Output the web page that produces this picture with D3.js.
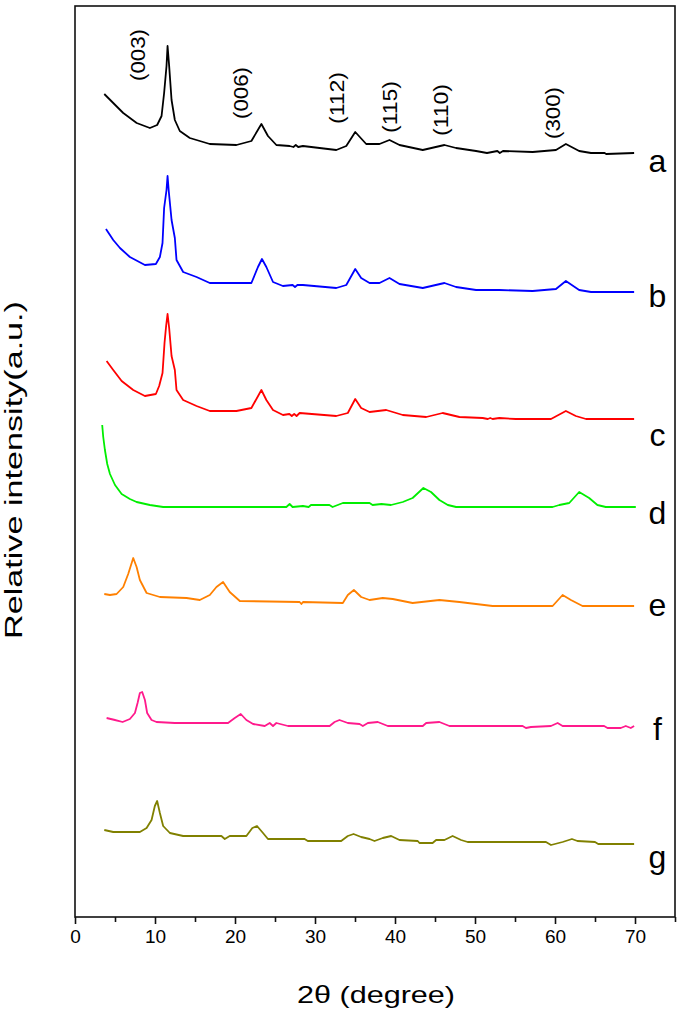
<!DOCTYPE html>
<html>
  <head>
    <meta charset="utf-8">
    <title>XRD patterns a-g</title>
    <script src="https://d3js.org/d3.v7.min.js"></script>
    <style>
      body { margin: 0; background: #fff; }
      text { font-family: "Liberation Sans", Arial, sans-serif; fill: #000; }
    </style>
  </head>
  <body>
    <svg id="chart" width="682" height="1027"></svg>
    <script>
      // ---- data (2theta, relative intensity above each trace's own baseline) ----
      const seriesNames = ["a", "b", "c", "d", "e", "f", "g"];
      const seriesColors = ["#000000", "#0000ff", "#ff0000", "#00ee00", "#ff8000", "#ff1a8c", "#808000"];
      const seriesOffsets = [764, 625, 498, 410, 311, 191, 73];
      const labelLevels = [756, 621, 482, 404, 312, 188, 60];

      const seriesA = [[3.66,59],[4.78,50],[6.03,40],[7.71,30],[9.36,25],[10.27,28],[10.82,37],[11.14,60],[11.44,87],[11.57,107],[11.77,87],[12.07,53],[12.48,33],[13.1,22],[14.35,15],[16.85,9],[20.18,8],[22.05,12],[23.3,29],[24.12,17],[25.17,8],[26.83,7],[27.3,6],[27.6,8],[27.9,6],[28.49,7],[32.66,3],[33.91,7],[35.03,21],[36.4,9],[38.06,9],[39.31,13],[40.56,8],[43.47,3],[46.18,8],[47.63,5],[50.13,2],[51.5,0],[52.8,2],[53.1,0],[53.5,2],[57.2,1],[60.12,3],[61.36,9],[63.02,2],[64.5,0],[66.2,0],[66.4,-1],[69.89,0]];
      const seriesB = [[3.87,63],[4.78,52],[5.62,44],[6.86,35],[8.74,27],[10.11,28],[10.61,35],[10.94,49],[11.14,84],[11.44,102],[11.57,116],[11.73,100],[12.07,72],[12.48,54],[12.69,32],[13.52,20],[15.19,15],[16.85,9],[22.05,9],[22.87,25],[23.37,33],[23.92,25],[24.75,10],[25.99,6],[27.2,7],[27.5,5],[27.8,7],[28.49,7],[32.66,4],[33.91,7],[35.03,23],[35.77,14],[36.82,9],[38.06,9],[39.31,14],[40.56,8],[43.47,4],[46.18,9],[47.63,5],[50.13,2],[53.04,2],[57.2,1],[60.12,3],[61.36,11],[63.02,2],[64.5,0],[69.89,0]];
      const seriesC = [[3.95,58],[4.78,49],[5.83,38],[7.28,29],[8.74,23],[10.11,25],[10.52,33],[10.94,46],[11.19,76],[11.39,93],[11.57,105],[11.77,91],[12.07,63],[12.48,49],[12.69,29],[13.52,19],[15.19,13],[16.85,8],[20.18,8],[22.05,11],[23.3,29],[23.92,19],[24.75,9],[26.0,4],[26.8,5],[27.1,3],[27.4,5],[27.7,3],[28.08,6],[32.66,3],[34.1,6],[35.03,20],[35.77,11],[36.82,7],[38.9,9],[40.97,4],[43.9,2],[45.96,6],[48.05,2],[50.96,1],[51.6,0],[51.9,1],[52.2,0],[53.04,1],[55.1,0],[59.5,0],[61.36,8],[62.6,3],[63.87,0],[69.89,0]];
      const seriesD = [[3.4,82],[3.53,70],[3.74,57],[4.03,43],[4.37,33],[5.0,22],[5.83,13],[6.86,8],[7.7,5],[9.36,2],[11.02,0],[26.42,0],[26.83,3],[27.2,0],[28.49,1],[29.2,0],[29.5,2],[31.8,2],[32.2,0],[33.48,4],[36.82,4],[37.2,2],[38.3,3],[39.5,2],[40.97,5],[42.2,9],[43.55,19],[44.5,15],[45.55,7],[46.6,2],[47.64,0],[59.7,0],[60.54,2],[61.78,4],[63.02,15],[64.27,9],[65.3,2],[66.35,0],[70.1,0]];
      const seriesE = [[3.66,12],[4.37,11],[5.2,12],[6.03,19],[6.65,32],[7.28,48],[7.7,39],[8.11,26],[8.95,13],[10.61,9],[13.94,8],[15.6,6],[16.85,11],[17.68,19],[18.51,24],[19.34,14],[20.6,5],[28.08,4],[28.3,2],[28.5,4],[33.48,3],[34.1,11],[34.86,16],[35.77,9],[36.82,6],[38.47,8],[39.72,7],[42.2,3],[45.55,6],[48.05,4],[52.2,0],[59.7,0],[60.95,11],[61.99,6],[63.44,0],[69.89,0]];
      const seriesF = [[3.95,8],[4.99,6],[5.95,4],[6.86,7],[7.49,13],[7.82,23],[8.11,33],[8.4,34],[8.74,26],[9.02,13],[9.57,6],[10.19,4],[12.48,3],[19.13,3],[19.97,8],[20.72,12],[21.42,6],[22.26,2],[23.72,0],[24.34,3],[24.75,0],[25.17,3],[26.62,0],[31.83,0],[32.45,4],[33.06,6],[34.1,3],[35.57,2],[35.98,0],[36.61,3],[37.85,4],[39.1,0],[43.47,0],[43.9,3],[45.55,4],[46.8,0],[55.95,0],[56.37,-2],[56.99,-1],[59.49,0],[60.33,3],[60.95,0],[66.14,0],[66.56,-2],[68.22,-2],[68.85,0],[69.47,-2],[69.89,0]];
      const seriesG = [[3.66,14],[4.78,12],[8.11,12],[8.95,16],[9.57,24],[9.98,38],[10.27,43],[10.61,31],[11.02,18],[11.86,11],[13.52,8],[18.3,8],[18.72,5],[19.34,8],[21.42,8],[22.17,16],[22.75,18],[23.5,11],[24.12,5],[28.7,5],[29.1,3],[33.27,3],[34.1,8],[34.82,10],[35.77,7],[36.82,5],[37.44,3],[38.47,6],[39.52,8],[40.56,4],[42.84,3],[43.06,1],[44.7,1],[45.14,4],[46.18,4],[47.2,8],[48.26,4],[49.08,2],[58.87,2],[59.5,-1],[60.95,2],[62.12,5],[62.8,3],[65.0,2],[65.4,0],[69.89,0]];
      const seriesData = [seriesA, seriesB, seriesC, seriesD, seriesE, seriesF, seriesG];

      const peakLabels = ["(003)", "(006)", "(112)", "(115)", "(110)", "(300)"];
      const peakAt = [[7.9, 862], [20.7, 824], [32.7, 819], [39.4, 810], [45.8, 807], [59.75, 804]];

      const xTicks = [0, 10, 20, 30, 40, 50, 60, 70];
      const xMinorTicks = [5, 15, 25, 35, 45, 55, 65, 75];

      // ---- layout ----
      const svg = d3.select("#chart");
      const plotL = 75, plotR = 675, plotT = 6, plotB = 917;

      const x = d3.scaleLinear().domain([0, 75]).range([plotL, plotR]);
      const y = d3.scaleLinear().domain([0, 917 - 5]).range([917, 5]);

      // frame
      svg.append("rect")
        .attr("x", plotL).attr("y", plotT)
        .attr("width", plotR - plotL).attr("height", plotB - plotT)
        .attr("fill", "none").attr("stroke", "#111").attr("stroke-width", 1.6);

      // bottom axis
      const xAxis = svg.append("g")
        .attr("transform", "translate(0," + plotB + ")")
        .call(d3.axisBottom(x).tickValues(xTicks).tickSize(7).tickPadding(6).tickFormat(d3.format("d")));
      xAxis.select(".domain").remove();
      xAxis.selectAll("line").attr("stroke", "#111").attr("stroke-width", 1.6);
      xAxis.selectAll("text")
        .style("font-family", "'Liberation Sans', Arial, sans-serif")
        .style("font-size", "19px").attr("fill", "#000");
      svg.append("g")
        .attr("transform", "translate(0," + plotB + ")")
        .call(d3.axisBottom(x).tickValues(xMinorTicks).tickSize(5).tickFormat(""))
        .call(g => g.select(".domain").remove())
        .selectAll("line").attr("stroke", "#111").attr("stroke-width", 1.6);

      // axis titles (the source font is wide, so stretch to its measured length)
      svg.append("text")
        .attr("x", 376).attr("y", 1003)
        .attr("text-anchor", "middle")
        .attr("textLength", 158).attr("lengthAdjust", "spacingAndGlyphs")
        .style("font-size", "24px")
        .text("2θ (degree)");
      svg.append("text")
        .attr("transform", "translate(22," + 470 + ") rotate(-90)")
        .attr("text-anchor", "middle")
        .attr("textLength", 338).attr("lengthAdjust", "spacingAndGlyphs")
        .style("font-size", "23px")
        .text("Relative intensity(a.u.)");

      // traces
      const line = d3.line()
        .x(d => x(d[0]))
        .y(d => y(d[1]));
      seriesData.forEach(function(data, i) {
        const off = seriesOffsets[i];
        svg.append("path")
          .datum(data.map(d => [d[0], d[1] + off]))
          .attr("d", line)
          .attr("fill", "none")
          .attr("stroke", seriesColors[i])
          .attr("stroke-width", 1.8)
          .attr("stroke-linejoin", "round");
        svg.append("text")
          .attr("x", x(72.8)).attr("y", y(labelLevels[i]))
          .attr("text-anchor", "middle")
          .attr("dominant-baseline", "central")
          .style("font-size", "32px")
          .text(seriesNames[i]);
      });

      // reflection labels
      peakLabels.forEach(function(lab, i) {
        svg.append("text")
          .attr("transform", "translate(" + x(peakAt[i][0]) + "," + y(peakAt[i][1]) + ") rotate(-90)")
          .attr("text-anchor", "middle")
          .attr("dominant-baseline", "central")
          .attr("textLength", 52).attr("lengthAdjust", "spacingAndGlyphs")
          .style("font-size", "20px")
          .text(lab);
      });
    </script>
  </body>
</html>
